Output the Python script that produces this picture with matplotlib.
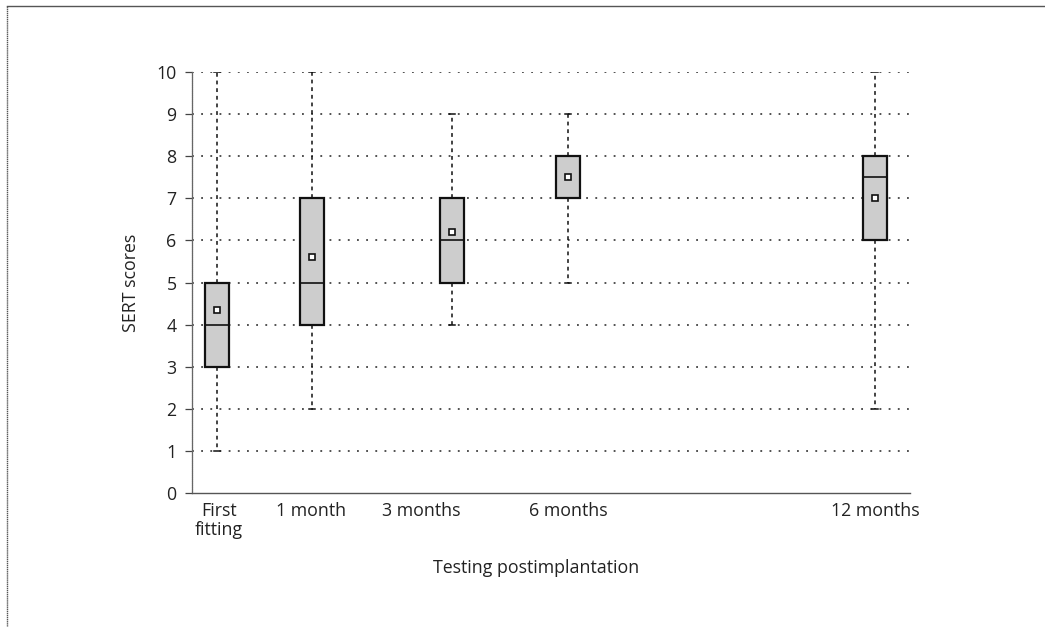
import matplotlib
matplotlib.use("Agg")
import matplotlib.pyplot as plt
from matplotlib.lines import Line2D

# ---- data ----
categories = ["First\nfitting", "1 month", "3 months", "6 months", "12 months"]
whisker_low = [1, 2, 4, 5, 2]
q1 = [3, 4, 5, 7, 6]
median = [4, 5, 6, 8, 7.5]
q3 = [5, 7, 7, 8, 8]
whisker_high = [10, 10, 9, 9, 10]
means = [4.35, 5.6, 6.2, 7.5, 7.0]
y_ticks = [0, 1, 2, 3, 4, 5, 6, 7, 8, 9, 10]

# layout (horizontal positions of the boxes and of their labels)
box_pos = [0.35, 1.67, 3.62, 5.24, 9.51]
label_pos = [0.37, 1.66, 3.19, 5.24, 9.51]

plt.rcParams['font.family'] = ['Open Sans', 'DejaVu Sans']
FS = 12.8

fig = plt.figure(figsize=(10.45, 6.28), dpi=100)
ax = fig.add_axes([192/1045, 1-493/628, (910-192)/1045, (493-72)/628])

stats = []
for i in range(len(categories)):
    stats.append(dict(med=median[i], q1=q1[i], q3=q3[i],
                      whislo=whisker_low[i], whishi=whisker_high[i],
                      mean=means[i], fliers=[]))

ax.bxp(stats, positions=box_pos, widths=0.33, showmeans=True, patch_artist=True,
       showfliers=False, capwidths=0.09,
       boxprops=dict(facecolor='#cdcdcd', edgecolor='#111111', linewidth=1.6),
       medianprops=dict(color='#111111', linewidth=1.2),
       whiskerprops=dict(color='#111111', linewidth=1.1, linestyle=(0, (2.5, 2.5))),
       capprops=dict(color='#111111', linewidth=1.1),
       meanprops=dict(marker='s', markerfacecolor='white', markeredgecolor='#111111',
                      markersize=4.5, markeredgewidth=1.2),
       zorder=3)

ax.set_xlim(0, 10)
ax.set_ylim(0, 10)
ax.set_yticks(y_ticks)
ax.set_yticklabels([str(t) for t in y_ticks], fontsize=FS, color='#222222')
ax.tick_params(axis='y', direction='out', length=5, width=0.9, color='#444444', pad=6)
ax.set_xticks([])

# horizontal dotted grid
for t in y_ticks[1:]:
    ax.axhline(t, color='#222222', linewidth=1.1, linestyle=(0, (1.2, 4.8)), zorder=1)

for s in ['top', 'right']:
    ax.spines[s].set_visible(False)
ax.spines['left'].set_color('#666666')
ax.spines['left'].set_linestyle((0, (1, 0.6)))
ax.spines['left'].set_linewidth(0.9)
ax.spines['bottom'].set_color('#555555')
ax.spines['bottom'].set_linewidth(1.0)

# category labels
trans = ax.get_xaxis_transform()
for x, lab in zip(label_pos, categories):
    ax.text(x, -0.022, lab, transform=trans, ha='center', va='top', fontsize=FS,
            color='#222222', linespacing=1.05)

ax.set_ylabel("SERT scores", fontsize=FS, color='#222222', labelpad=12)
fig.text(536/1045, 1-568/628, "Testing postimplantation", ha='center', va='center',
         fontsize=FS, color='#222222')

# outer frame (left and top edges)
fig.add_artist(Line2D([7/1045, 7/1045], [1-6/628, 1-626/628], transform=fig.transFigure,
                      color='#555555', linewidth=1.0, linestyle=(0, (1, 0.5))))
fig.add_artist(Line2D([7/1045, 1.0], [1-6/628, 1-6/628], transform=fig.transFigure,
                      color='#555555', linewidth=1.0))

fig.savefig("out.png", dpi=100)
